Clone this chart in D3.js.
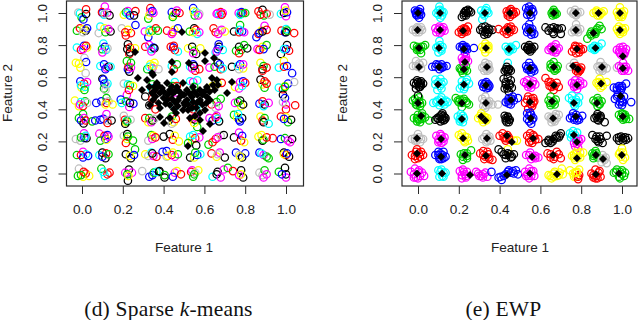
<!DOCTYPE html>
<html><head><meta charset="utf-8"><style>html,body{margin:0;background:#fff}svg{display:block}</style>
<script src="https://cdnjs.cloudflare.com/ajax/libs/d3/7.8.5/d3.min.js"></script></head><body><script>
const palette=["#000000","#ff0000","#00cd00","#0000ff","#00ffff","#ff00ff","#ffff00","#bebebe"];
const tickValues=[0,0.2,0.4,0.6,0.8,1.0];
const xLabel="Feature 1", yLabel="Feature 2";
// x, y (thousandths of the feature range), colour index
const leftCircles=[
-18,1002,7,-2,973,2,-10,998,4,7,960,3,20,994,0,20,1023,1,
112,1040,5,100,1000,3,108,990,4,98,1005,1,124,1002,5,135,985,0,112,995,7,
205,990,6,215,1005,2,225,1012,5,222,998,4,235,985,3,262,1012,1,255,985,0,
335,1030,1,335,1005,5,325,965,2,330,985,6,345,1012,3,350,1000,5,
440,1005,3,448,985,6,460,1000,0,478,1000,1,445,975,2,465,1015,5,
545,1030,3,553,985,2,560,1005,4,575,995,7,548,1010,6,570,985,5,
665,1000,5,680,1005,1,690,1000,5,672,990,4,660,995,5,685,990,1,
768,1000,5,780,995,2,790,1000,1,782,1005,3,775,990,4,800,1000,2,
865,1010,1,885,1020,0,892,985,2,905,995,1,920,990,7,875,990,1,
995,1035,5,975,995,4,990,1000,0,1000,980,5,1005,1005,3,998,1015,6,
-25,890,2,-10,905,1,18,890,0,8,900,6,25,905,3,5,880,7,
90,915,4,82,875,7,115,880,2,140,885,0,110,905,6,130,900,5,
195,905,7,215,860,1,240,875,1,225,895,6,262,925,3,212,880,1,
308,885,5,325,850,3,332,895,4,345,890,2,330,880,6,362,905,1,372,890,2,
417,890,1,445,880,1,452,895,6,440,870,5,470,905,3,
528,885,2,550,905,0,558,895,1,565,870,4,575,880,5,545,880,6,
645,905,1,655,880,1,675,890,7,685,895,5,700,885,6,668,870,5,
745,885,0,775,925,2,770,880,1,785,885,3,795,880,5,772,895,4,
855,850,3,865,870,1,880,890,6,895,920,5,905,895,1,870,875,3,885,885,0,
978,890,1,995,880,3,1000,900,4,1000,880,0,1005,890,2,1040,875,1,
-25,785,4,-5,770,1,10,795,3,25,785,6,20,795,1,12,720,7,5,775,5,
105,810,4,98,775,2,112,790,3,118,770,4,100,755,5,125,780,7,
225,805,0,222,775,0,235,785,1,232,745,1,235,755,0,260,780,6,
310,790,1,330,800,5,340,775,4,350,785,3,355,780,0,340,760,5,
435,790,1,447,785,3,455,770,1,470,760,4,450,795,1,
520,780,6,540,790,0,550,765,2,560,745,0,580,780,6,545,750,5,
655,755,4,665,775,3,672,790,0,670,805,3,690,770,4,660,760,5,
755,765,2,770,790,0,780,770,2,810,780,0,770,750,1,795,800,2,
860,775,5,885,790,6,905,800,2,890,775,3,870,770,1,
975,745,0,1000,775,3,1005,800,0,1015,765,1,990,775,4,
-30,690,6,-8,660,6,20,695,3,18,625,7,-15,685,6,
90,670,4,108,680,3,120,660,5,130,665,0,115,650,3,140,665,4,
220,700,2,225,650,3,228,665,1,232,635,0,240,660,5,240,690,2,
320,650,2,335,680,6,355,690,6,345,655,5,330,665,4,350,670,6,375,650,7,
440,670,4,450,650,1,465,680,2,
530,665,4,545,680,3,555,640,1,575,650,1,540,655,5,550,670,0,
625,660,5,650,665,2,665,690,0,680,650,1,675,680,3,690,655,4,
735,665,0,765,670,4,775,680,3,790,655,6,790,680,5,770,650,7,
875,690,6,885,650,0,890,670,2,905,660,1,885,640,1,
965,660,4,990,700,6,990,665,1,1005,670,3,1030,625,3,
-8,575,3,10,560,1,-2,535,6,15,540,4,25,570,5,-5,550,4,12,520,2,
100,590,0,110,560,3,108,530,2,120,550,7,125,560,4,105,585,3,115,520,7,
205,560,7,225,555,4,235,550,2,220,490,5,250,545,6,230,520,1,
340,530,4,345,555,2,350,520,1,
455,570,4,445,545,2,465,545,1,
530,575,4,545,570,5,565,580,4,550,540,2,
640,545,6,665,560,6,685,565,1,
750,540,6,775,570,5,790,575,3,800,565,1,770,530,5,785,545,4,
875,585,0,885,555,6,895,535,2,905,560,1,895,575,1,
965,535,4,985,525,1,995,545,6,1010,560,3,1040,570,7,995,540,2,
-35,455,6,-15,420,6,15,450,2,-5,445,4,5,420,1,-10,430,5,25,440,7,
70,440,3,95,450,3,120,470,2,120,440,1,115,430,6,130,450,7,150,430,6,
190,460,3,215,450,2,232,415,5,252,435,3,195,440,4,235,440,0,
310,480,0,330,425,0,345,465,1,360,400,1,
425,450,1,455,415,4,460,460,5,
530,430,4,560,410,4,545,400,1,
635,430,1,660,445,2,655,410,7,680,465,2,670,420,5,
750,440,5,775,455,0,780,420,6,790,430,0,765,445,2,
870,435,3,885,450,1,895,430,0,890,420,4,915,440,5,
985,490,0,995,470,3,1000,430,5,1000,400,1,985,445,7,1045,425,1,
-15,345,2,5,370,2,-5,330,3,8,312,0,10,345,5,18,330,1,
50,325,2,65,330,3,90,335,3,105,340,3,120,370,5,125,330,7,125,315,1,145,330,0,
205,360,7,210,335,1,215,320,6,220,330,4,222,325,2,212,310,0,238,335,7,
310,345,1,325,320,6,330,345,2,340,320,5,345,330,0,355,340,7,
425,330,0,440,355,2,450,320,6,440,310,7,460,340,1,
540,340,1,555,335,0,565,290,2,555,350,5,550,315,6,
625,345,5,640,330,3,655,350,1,665,340,4,672,325,0,660,360,5,
745,365,2,760,350,6,770,335,3,785,345,0,775,325,3,765,370,4,
875,355,6,885,330,1,895,345,2,890,320,0,915,310,4,
975,355,1,1000,350,6,1010,320,2,1025,335,0,990,340,3,
-30,215,7,-8,205,7,10,250,5,12,222,3,22,220,0,18,235,4,-5,225,2,
85,248,5,110,235,1,90,205,2,115,215,3,125,240,3,120,210,6,130,230,5,
205,235,7,220,215,6,222,245,0,225,230,2,215,190,1,250,205,2,
325,205,7,340,240,2,345,215,5,350,235,6,360,225,1,
400,230,0,430,245,0,445,210,1,455,235,6,475,200,6,
530,230,4,540,210,6,555,220,1,575,225,5,560,175,0,545,240,4,520,190,2,
620,180,2,640,195,1,655,215,1,680,235,7,695,240,0,665,225,5,
745,225,0,770,255,5,780,205,1,785,235,3,795,195,6,
865,230,6,885,205,0,890,210,2,905,225,1,935,220,1,880,240,6,
975,215,3,995,220,2,1010,205,5,1030,215,0,1020,195,5,
-25,115,2,5,135,5,5,100,3,20,120,4,-5,115,1,30,110,3,
85,115,4,100,130,0,115,95,0,118,125,1,100,105,3,130,120,2,
215,120,0,240,95,0,260,150,2,235,110,6,255,115,3,
310,120,6,340,130,4,325,110,7,350,110,5,365,105,1,345,125,0,
395,135,3,415,105,7,420,110,6,415,140,3,440,115,1,455,105,5,470,120,2,445,130,6,
530,100,0,550,100,6,565,115,3,580,120,4,555,130,2,
635,125,1,660,105,6,675,130,5,700,100,0,665,120,7,
755,130,3,770,115,7,785,100,0,800,125,3,775,105,6,
870,130,3,890,115,5,905,105,2,915,95,2,880,125,4,
990,130,0,1000,115,1,1015,105,0,990,120,6,1005,125,3,
-15,30,7,-20,-15,2,5,-20,6,18,0,1,35,-15,6,8,10,1,-5,-10,2,
95,30,2,112,-15,4,135,5,1,125,-5,1,105,10,4,
225,-45,0,230,25,0,245,5,5,212,5,5,222,-5,2,228,-15,6,
295,15,7,330,-20,3,345,-10,3,352,5,2,378,10,0,
365,10,4,380,15,0,405,-25,0,405,-10,2,455,5,5,465,15,6,485,-5,1,445,-20,3,
535,10,1,540,20,5,545,-20,2,555,5,7,570,20,6,550,-5,2,
640,-20,4,660,-5,0,665,10,0,680,-25,5,695,25,5,715,35,2,
740,15,1,780,20,0,790,-25,0,770,-10,5,780,-5,6,
870,5,7,885,-10,7,895,20,2,890,-25,5,905,-5,5,
965,10,2,995,35,0,1000,-5,0,1000,-25,5,980,-5,3
];
// sparse k-means weighted points: x, y pairs
const leftCentres=[
348,614,367,564,392,533,417,564,431,520,465,539,495,564,514,520,544,539,578,520,612,539,642,551,661,583,
382,501,417,458,446,501,480,477,514,458,539,477,563,439,539,408,578,458,612,477,627,458,348,458,343,501,
260,757,274,595,294,520,343,626,319,583,333,427,382,352,441,695,441,632,490,882,524,688,603,751,603,701,
647,720,637,595,735,570,711,501,666,551,382,408,495,396,578,377,402,315,431,346,461,377,529,346,578,333,
554,358,627,308,593,265,519,171,431,427,505,427,603,396,
360,520,375,545,400,510,420,490,440,540,455,510,470,520,485,500,500,490,525,500,550,510,565,490,590,490,
600,510,625,510,650,520,400,470,410,435,440,465,455,445,470,455,500,440,520,430,545,445,590,430,610,440,
360,480,375,440,355,540,330,540,470,420,520,395,560,410,450,400
];
// colour index, diamond x, diamond y (null if none shown), circle x,y pairs
const rightClusters=[
[3,0,1000,[-15,1015,-5,985,10,1025,15,990,-10,1000,5,970,0,1010]],
[4,108,1000,[105,1040,90,1000,125,1005,110,970,100,1015,118,985]],
[0,237,1000,[215,975,225,1000,235,1010,245,1020,260,1005,235,985]],
[4,328,1000,[310,1015,315,960,335,1030,345,1000,325,985]],
[1,451,1000,[435,1010,440,985,455,1025,470,995,450,975,465,1010,480,1005]],
[3,549,1000,[530,1030,545,1040,565,1005,535,990,555,975,560,1025]],
[2,666,1000,[655,1000,665,1020,680,995,660,985,672,990]],
[7,774,1000,[750,1010,770,1020,795,1005,775,985,760,995]],
[6,885,1000,[860,1000,875,1015,890,985,910,1010,880,985,900,1000]],
[6,990,1000,[975,1005,990,1035,1005,990,1010,1010,985,975,1000,975]],
[7,-2,894,[-25,895,-10,880,5,880,15,910,-5,910,20,895]],
[5,108,894,[85,905,90,880,108,875,130,890,125,910,105,915]],
[1,221,890,[200,880,215,870,235,895,245,915,225,905,240,885]],
[0,328,894,[305,895,315,910,330,915,345,905,350,895,325,865,340,870,365,895]],
[1,441,894,[395,900,420,885,450,880,470,895,445,905,435,870,455,915]],
[3,549,890,[530,910,545,930,560,900,570,870,535,880,555,865]],
[0,670,895,[625,910,640,890,665,910,690,900,705,905,665,870,700,870]],
[7,774,894,[755,880,775,930,770,885,795,900,785,880]],
[2,860,875,[830,840,850,860,870,880,890,920,900,900,850,885,875,895]],
[6,990,894,[975,900,985,915,1005,895,1015,905,990,870,1005,880]],
[2,5,782,[-20,795,-5,770,15,750,25,790,35,800,5,785]],
[4,103,782,[90,785,105,825,120,790,100,755,115,765]],
[3,225,775,[205,790,220,800,235,790,230,755,240,770,274,782]],
[6,333,782,[315,790,330,810,345,775,330,755,345,795]],
[4,446,775,[430,790,445,760,465,775,480,800,455,780]],
[0,549,782,[525,790,545,800,560,775,570,790,550,760,540,770]],
[5,662,775,[640,770,655,790,675,805,690,780,660,760,675,755]],
[1,779,775,[755,760,770,795,790,790,810,775,775,750,790,755]],
[4,870,782,[850,780,865,770,885,790,900,810,865,795]],
[5,1004,730,[975,770,990,785,1005,790,1020,775,1005,755,990,750,1010,740]],
[7,5,664,[-25,670,-10,700,15,655,25,690,5,685]],
[3,103,664,[70,665,90,680,105,650,125,665,115,680,140,670]],
[5,230,695,[215,720,235,730,245,700,220,700]],
[2,225,650,[205,655,220,625,240,640,235,670,215,640]],
[7,338,664,[315,660,330,690,345,680,325,640,350,650,340,640]],
[4,null,null,[440,690]],
[0,null,null,[425,640,440,635,455,640,435,665,445,650]],
[3,549,655,[530,670,545,690,565,655,555,630,535,650,570,640]],
[2,666,664,[650,680,665,695,685,670,670,640,650,660,680,650]],
[7,760,670,[745,665,765,690,770,660]],
[1,784,650,[775,670,795,645,785,630,800,660,775,640]],
[7,902,664,[880,665,895,695,910,670,890,640,905,640,925,655]],
[7,null,null,[975,660]],
[5,1004,655,[985,670,1005,690,1020,665,1030,640,1000,640,1015,650]],
[0,0,558,[-20,565,-5,580,15,575,25,560,10,540,-10,530,5,555]],
[4,98,555,[85,585,110,590,125,570,115,530,95,520,85,555]],
[4,225,555,[205,530,215,575,240,585,250,560,225,525]],
[3,333,550,[315,560,335,570,350,545,335,530,345,555,320,540]],
[0,436,540,[420,590,440,600,455,580,430,555,460,535,445,510,425,530]],
[5,549,558,[520,570,535,580,565,575,575,555,555,535,540,540]],
[1,666,550,[625,595,650,570,680,565,690,540,665,520,645,545]],
[5,779,552,[755,565,770,580,795,575,810,560,780,525,765,540]],
[6,897,560,[875,565,890,590,905,545,925,570,895,535]],
[3,null,null,[960,535,985,545,1000,535,1020,560,995,520,975,520]],
[2,0,440,[-25,455,-10,430,10,420,20,440,-15,465,5,475]],
[0,null,null,[0,485]],
[4,113,446,[75,440,95,455,115,475,135,455,145,445,105,425,130,430]],
[2,215,440,[185,470,200,445,225,465,240,440,250,430,215,415,205,460]],
[7,333,440,[315,465,330,480,345,430,330,410,350,450,320,420,365,430,392,430]],
[3,456,458,[430,445,445,470,465,480,490,470,445,435,455,430]],
[1,549,445,[525,440,540,480,565,470,560,420,540,405,555,430,570,450]],
[2,657,450,[640,455,650,480,675,460,670,430,650,425]],
[4,764,440,[740,470,755,485,790,475,785,440,770,420,775,460]],
[2,877,440,[860,455,880,470,900,450,880,420,890,430]],
[3,993,483,[965,465,980,490,1010,480,1005,445,985,430,1000,425,1045,445]],
[2,15,358,[-20,345,-5,325,20,375,35,350,10,320,20,340,0,365,55,330]],
[0,112,345,[85,335,100,340,115,365,130,350,110,325,125,330,120,375,135,345]],
[4,215,340,[195,355,210,370,225,345,220,320,205,325]],
[6,310,355,[295,345,310,375,325,355,335,330,320,320,340,345]],
[6,330,330,[]],
[0,436,345,[425,360,440,350,450,335,430,330,445,320]],
[3,553,345,[535,375,550,380,565,345,555,310,535,340]],
[7,662,345,[640,355,655,340,675,370,690,365,670,325,655,320]],
[3,774,355,[745,345,760,375,790,335,805,360,780,330,765,335]],
[0,882,355,[865,345,880,370,895,350,915,320,885,330]],
[2,1004,355,[985,365,1000,375,1020,340,1035,340,1005,335,1015,355]],
[7,-5,220,[-30,215,-15,205,0,245,25,215,10,195,15,215]],
[5,113,215,[90,235,110,245,130,225,125,200,100,195,115,190]],
[6,221,220,[200,240,215,250,240,225,230,195,245,205]],
[7,338,220,[315,215,335,245,350,230,335,195,355,205]],
[1,436,235,[400,235,415,250,435,220,450,210,430,205]],
[6,460,197,[470,205,485,205]],
[1,564,220,[535,235,550,250,570,230,590,215,545,195,560,190]],
[0,660,215,[625,190,640,200,665,215,680,225,700,250,660,200,695,235]],
[4,764,240,[745,250,760,265,780,255,750,225]],
[5,779,197,[765,190,785,215,800,215,770,170]],
[0,882,215,[855,240,875,230,895,215,885,195,905,190,925,235]],
[0,999,222,[975,220,995,230,1015,225,1030,220,985,205,1005,205]],
[1,-5,125,[-30,115,-15,90,0,95,25,115,15,135,-5,150]],
[3,113,105,[85,115,100,135,125,135,135,105,115,90,105,90]],
[2,230,115,[210,120,220,85,240,95,260,145,240,125]],
[1,333,110,[305,125,320,140,345,100,365,85,325,90,340,135]],
[6,null,null,[440,150]],
[0,441,115,[395,150,420,120,440,125,470,120,430,95,455,100]],
[5,559,105,[530,115,550,130,575,110,590,100,555,90]],
[1,662,115,[635,125,650,100,680,135,700,95,665,90]],
[5,null,null,[785,160]],
[6,779,95,[755,110,770,85,795,130,810,130,780,140,765,100]],
[2,872,115,[855,125,870,140,880,100,860,95]],
[7,907,90,[905,115,920,100,925,65,900,70]],
[6,999,115,[985,120,1000,155,1015,100,1005,85]],
[5,-5,0,[-35,10,-15,30,5,20,30,-15,20,5,-20,-25,0,-30]],
[4,118,0,[100,20,115,25,135,5,125,-20,105,-20]],
[5,255,-10,[205,15,220,25,230,-5,235,-25,215,-30,240,10]],
[5,null,null,[285,10,300,-15,318,-25,330,5,340,-20]],
[3,436,-10,[360,10,395,-25,410,-40,430,-5,445,20,465,15,490,-5,480,20]],
[5,549,0,[525,10,545,30,565,15,570,-15,545,-30,530,-15]],
[6,681,-5,[640,-10,655,-30,670,10,695,5,710,-5,665,-20,705,30]],
[6,null,null,[745,20,770,5,775,-20,790,25,765,-20]],
[1,null,null,[785,-20,790,-10,785,-35]],
[1,872,-5,[850,0,870,25,890,15,895,-20,870,-30,860,-25]],
[2,985,0,[960,5,975,25,1000,20,1010,-15,990,-30,1015,5]]
];
// extra tightly packed circles near each cluster's middle: colour index, x,y pairs
const rightInner=[
[3,-7,1008,6,992,9,1006,-9,990],[4,100,990,116,1010,108,1020],[0,225,985,240,1000,252,1012,232,1012],[4,320,995,338,1010,330,1018],
[1,442,998,458,1008,462,990,448,1015],[3,540,1010,556,1015,550,990,542,1020],[2,660,1008,672,1005,668,995],[7,765,1002,782,1002,772,990],[6,872,1005,895,995,885,1008],[6,982,990,998,1005,995,985],
[7,-12,895,8,895,0,905],[5,98,895,118,900,108,905,115,885],[1,212,895,228,880,232,902,218,885],[0,318,885,335,895,345,880,330,880],[1,430,895,445,890,458,900,440,910],[3,540,895,555,885,548,905,560,880],[0,650,905,680,905,660,880],[7,765,895,782,895,778,905],[2,845,870,865,880,880,905,870,870],[6,982,885,1000,905,995,885],
[2,-5,790,10,770,15,790,0,775],[4,98,790,112,775,108,800],[3,215,785,228,775,225,790,235,780],[6,325,775,340,790,330,790],[4,440,775,455,790,450,770],[0,535,780,555,785,550,775,540,790],[5,650,780,668,790,665,770,682,770],[1,765,775,785,775,775,790,798,770],[4,858,785,875,785,870,775],[5,985,760,1000,770,1015,755,995,740],
[7,-10,670,10,675,0,665],[3,85,665,110,665,118,660,100,675],[2,212,650,228,645,225,660],[5,228,710,235,712,225,690],[7,325,670,340,660,345,665,335,650],[0,432,650,448,650,440,645],[3,540,660,555,670,560,650,545,645],[2,658,670,675,660,665,650],[1,780,655,790,650,792,640],[7,890,670,905,655,898,655],[5,995,660,1010,665,1010,640],
[0,-10,555,10,565,0,570,5,540,15,550],[4,100,570,108,545,115,560],[4,215,545,235,570,230,540],[3,325,555,340,545,330,560,345,535],[0,430,570,448,560,438,530,450,550],[5,530,560,545,555,560,560,550,550],[1,640,570,660,555,670,545,655,540],[5,765,555,785,565,795,550,775,545],[6,885,570,900,565,885,550],[3,975,535,1000,545,990,530],
[2,-10,445,5,450,10,435,-5,425],[4,90,445,110,460,125,445,115,440],[2,195,455,215,440,235,450,220,455],[7,325,450,340,445,335,425],[3,440,455,460,465,470,455,450,450],[1,535,460,555,465,550,435,565,440],[2,648,440,665,450,660,440],[4,755,455,775,445,765,430],[2,870,445,885,455,890,435],[3,975,480,995,470,1000,450,990,445],
[2,0,340,15,350,20,360,-5,345,5,335],[0,95,345,105,355,118,340,130,335,125,360],[4,205,340,220,360,212,335],[6,305,360,320,340,330,350,315,335,330,335],[0,430,345,445,335,440,355,435,320],[3,545,360,560,335,545,325,555,365],[7,650,345,668,355,680,345,665,335],[3,755,355,775,365,785,345,770,345],[0,875,355,890,345,880,335,895,360],[2,995,350,1010,345,1015,365,1005,370],
[7,-15,220,5,225,-5,205],[5,100,215,120,215,115,235,105,205],[6,210,225,230,230,225,205],[7,325,225,345,220,340,205],[1,420,225,438,240,425,220,445,225],[1,545,220,565,240,575,210,555,205],[0,640,210,675,235,650,190,690,225],[4,755,240,770,240,765,225],[5,775,205,790,200,780,185],[0,870,215,890,230,880,205],[0,985,225,1005,220,1020,210],
[1,-15,110,5,125,10,105,-10,135],[3,100,115,120,115,110,125,105,100,125,95],[2,220,105,240,110,225,125],[1,320,115,345,120,330,105,350,90],[0,410,135,430,115,450,120,460,105],[5,545,115,565,105,575,95],[1,650,120,670,105,690,120],[6,765,120,785,105,795,100,775,125],[2,860,110,875,125,865,120],[7,915,85,905,95],[6,995,105,1005,130,990,130],
[5,-20,-5,0,10,10,-15,-10,-25],[4,110,10,125,5,118,-15],[5,215,-10,225,10,235,-15],[5,295,0,320,-5,310,-15],[3,405,-20,420,-15,440,10,455,5,470,0],[5,535,-5,555,-15,555,15,540,-15],[6,650,-15,680,-15,690,-10,665,0],[6,760,0,780,10,775,5],[1,860,-10,885,5,875,-15,880,-30],[2,970,10,990,10,1000,-5,985,-20]
];
const captionLeft=["(d) Sparse ","k","-means"], captionRight="(e) EWP";

const svg=d3.select("body").append("svg").attr("width",640).attr("height",320)
  .style("font-family","'Liberation Sans',Arial,sans-serif");
const diamondType={draw(ctx,size){const r=Math.sqrt(size/2);ctx.moveTo(0,-r);ctx.lineTo(r,0);ctx.lineTo(0,r);ctx.lineTo(-r,0);ctx.closePath();}};
const diamond=d3.symbol().type(diamondType).size(32);
const ink="#2b2b2b";

function panel(box,x0,circles,centres){
  const x=d3.scaleLinear().domain([0,1]).range([x0,x0+204]);
  const y=d3.scaleLinear().domain([0,1]).range([173.5,13]);
  const g=svg.append("g");
  g.selectAll("circle").data(circles).join("circle")
    .attr("cx",d=>x(d.x/1000)).attr("cy",d=>y(d.y/1000)).attr("r",3.7)
    .attr("fill","none").attr("stroke",d=>palette[d.c]).attr("stroke-width",1.25);
  g.selectAll("path.c").data(centres).join("path").attr("class","c")
    .attr("transform",d=>`translate(${x(d.x/1000)},${y(d.y/1000)})`).attr("d",diamond).attr("fill","#000");
  svg.append("rect").attr("x",box[0]).attr("y",1).attr("width",box[1]-box[0]).attr("height",185)
    .attr("fill","none").attr("stroke",ink).attr("stroke-width",1.2);
  const ax=svg.append("g").attr("transform","translate(0,186)")
    .call(d3.axisBottom(x).tickValues(tickValues).tickFormat(d3.format(".1f")).tickSize(8).tickPadding(10));
  const ay=svg.append("g").attr("transform",`translate(${box[0]},0)`)
    .call(d3.axisLeft(y).tickValues(tickValues).tickFormat(d3.format(".1f")).tickSize(8));
  ax.select(".domain").remove(); ay.select(".domain").remove();
  for(const a of [ax,ay]){a.selectAll("line").attr("stroke",ink).attr("stroke-width",1);
    a.selectAll("text").attr("fill","#222").style("font-family","'Liberation Sans',Arial,sans-serif").style("font-size","13.6px");}
  ay.selectAll("text").attr("x",null).attr("dy",null).attr("text-anchor","middle")
    .attr("dominant-baseline","central").attr("transform","translate(-24.5,0) rotate(-90)");
  svg.append("text").attr("x",x(0.5)).attr("y",251.5).attr("text-anchor","middle").attr("font-size",13.6).attr("fill","#222").text(xLabel);
  svg.append("text").attr("transform",`translate(${box[0]-59.5},93) rotate(-90)`).attr("text-anchor","middle").attr("dominant-baseline","central").attr("font-size",13.6).attr("fill","#222").text(yLabel);
}
const triples=d3.range(0,leftCircles.length,3).map(i=>({x:leftCircles[i],y:leftCircles[i+1],c:leftCircles[i+2]}));
const pairs=d3.range(0,leftCentres.length,2).map(i=>({x:leftCentres[i],y:leftCentres[i+1]}));
panel([66.5,303.5],82,triples,pairs);
const rightPts=rightClusters.flatMap(([c,,,p])=>d3.range(0,p.length,2).map(i=>({x:p[i],y:p[i+1],c})))
  .concat(rightInner.flatMap(r=>d3.range(1,r.length,2).map(i=>({x:r[i],y:r[i+1],c:r[0]}))));
const rightDia=rightClusters.filter(d=>d[1]!==null).map(d=>({x:d[1],y:d[2]}));
panel([402,637],418,rightPts,rightDia);

const serif="'Liberation Serif','Times New Roman',serif";
const capL=svg.append("text").attr("x",168.5).attr("y",316).attr("text-anchor","middle").attr("font-family",serif).attr("font-size",21.5).attr("letter-spacing",0.2).attr("fill","#111");
captionLeft.forEach((t,i)=>capL.append("tspan").attr("font-style",i===1?"italic":"normal").text(t));
svg.append("text").attr("x",503.5).attr("y",316).attr("text-anchor","middle").attr("font-family",serif).attr("font-size",21.5).attr("letter-spacing",0.2).attr("fill","#111").text(captionRight);
</script></body></html>
